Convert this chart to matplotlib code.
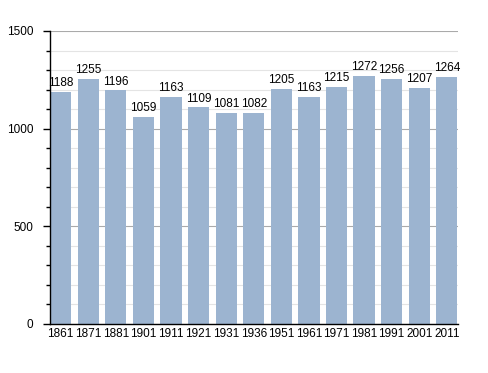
import matplotlib
matplotlib.use("Agg")
import matplotlib.pyplot as plt
from matplotlib.ticker import MultipleLocator
import numpy as np

years = ["1861", "1871", "1881", "1901", "1911", "1921", "1931", "1936",
         "1951", "1961", "1971", "1981", "1991", "2001", "2011"]
population = [1188, 1255, 1196, 1059, 1163, 1109, 1081, 1082,
              1205, 1163, 1215, 1272, 1256, 1207, 1264]

plt.rcParams['font.family'] = ['Liberation Sans', 'DejaVu Sans']

fig = plt.figure(figsize=(4.88, 3.73), dpi=100)
ax = fig.add_axes([0.1025, 0.1314, 0.836, 0.7855])

x = np.arange(len(years))
width = 0.77
bars = ax.bar(x, population, width=width, align='edge', color='#9cb4d0', zorder=2)

for xi, v in zip(x, population):
    ax.text(xi + width / 2, v + 14, str(v), ha='center', va='bottom', fontsize=8.5, color='black', zorder=3)

ax.set_xlim(0, len(years) - 1 + width + 0.02)
ax.set_ylim(0, 1500)
ax.set_xticks(x + width / 2)
ax.set_xticklabels(years, fontsize=8.5)
ax.tick_params(axis='x', length=0, pad=3)

ax.yaxis.set_major_locator(MultipleLocator(500))
ax.yaxis.set_minor_locator(MultipleLocator(100))
ax.tick_params(axis='y', which='major', length=5, width=1, labelsize=8.5, pad=7)
ax.tick_params(axis='y', which='minor', length=3, width=1)

ax.grid(axis='y', which='minor', color='#e4e4e4', linewidth=0.8, zorder=0)
ax.grid(axis='y', which='major', color='#aaaaaa', linewidth=0.8, zorder=1)

for s in ['top', 'right']:
    ax.spines[s].set_visible(False)
ax.spines['left'].set_linewidth(1)
ax.spines['bottom'].set_linewidth(1)
ax.spines['left'].set_zorder(4)
ax.spines['bottom'].set_zorder(4)

fig.savefig("out.png", dpi=100)
